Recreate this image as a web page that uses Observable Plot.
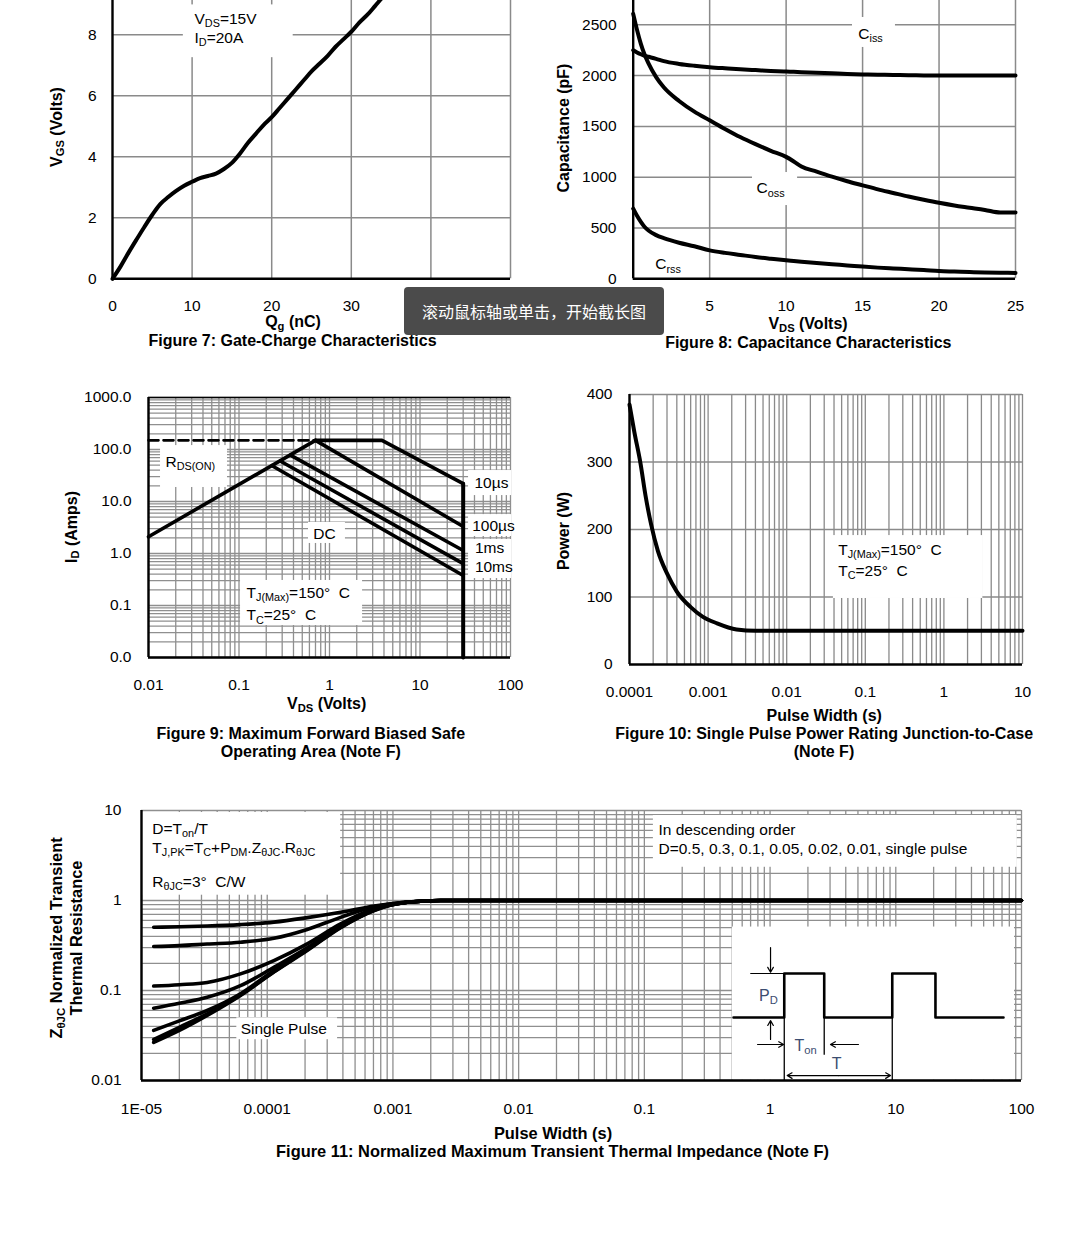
<!DOCTYPE html>
<html><head><meta charset="utf-8">
<script src="https://cdn.jsdelivr.net/npm/d3@7"></script>
<script src="https://cdn.jsdelivr.net/npm/@observablehq/plot@0.6"></script>
<style>
html,body{margin:0;padding:0;background:#fff;}
body{width:1068px;height:1247px;position:relative;overflow:hidden;font-family:"Liberation Sans",Arial,Helvetica,sans-serif;}
.lbl{position:absolute;white-space:nowrap;font-size:15.5px;line-height:18px;color:#000;}
.b{font-weight:bold;font-size:16px;}
.big{font-size:16.4px;line-height:17.5px;}
.sub{font-size:70%;position:relative;top:0.22em;}
.hc{transform:translateX(-50%);text-align:center;}
.rot{transform:translate(-50%,-50%) rotate(-90deg);text-align:center;}
#tip{position:absolute;left:404px;top:287px;width:260px;height:48px;border-radius:4px;background:#4b4b4b;color:#fff;font-family:"Noto Sans CJK SC",sans-serif;font-size:16px;line-height:48px;text-align:center;}
</style></head><body>
<script>
// ---------- data ----------
// Figure 7: gate charge
const gateQ = [0,1,2,3,4,5,6,7,8,9,10,11,12,13,14,15,16,17,18,19,20,21,22,23,24,25,26,27,28,29,30,31,32,33,34,35,36,37];
const gateV = [0,0.4,0.85,1.28,1.7,2.1,2.45,2.68,2.88,3.05,3.18,3.3,3.37,3.45,3.6,3.8,4.1,4.45,4.75,5.05,5.3,5.6,5.9,6.2,6.5,6.8,7.05,7.3,7.6,7.85,8.1,8.4,8.65,8.95,9.25,9.5,9.8,10.05];
const fig7TicksX = [0,10,20,30,40,50];
const fig7TicksY = [0,2,4,6,8];

// Figure 8: capacitance
const capV = [0,0.25,0.5,0.75,1,1.5,2,3,4,5,6,7,8,9,10,10.5,11,12,13,14,15,16,17,18,19,20,21,22,23,24,25];
const ciss = [2250,2228,2210,2195,2185,2165,2142,2115,2097,2083,2072,2062,2054,2046,2040,2037,2034,2028,2022,2016,2012,2009,2006,2004,2002,2000,2000,2000,2000,2000,2000];
const coss = [2608,2450,2313,2205,2120,1985,1885,1750,1645,1560,1475,1395,1325,1260,1200,1155,1105,1055,1005,960,920,880,845,810,778,748,722,700,678,652,652];
const crss = [690,620,560,510,475,430,400,355,320,280,255,235,215,198,182,175,168,155,143,132,120,110,102,94,86,76,71,66,62,60,58];
const fig8TicksX = [0,5,10,15,20,25];
const fig8TicksY = [0,500,1000,1500,2000,2500];

// Figure 9: safe operating area
const soaLimitV = [0.01,0.7],   soaLimitI = [2.1,150];
const soaDashV  = [0.01,0.7],   soaDashI  = [150,150];
const soa10usV  = [0.7,3.8,30], soa10usI  = [150,150,22];
const soa100usV = [0.7,30],     soa100usI = [150,3.3];
const soa1msV   = [0.37,30],    soa1msI   = [78,1.14];
const soa10msV  = [0.285,30],   soa10msI  = [60,0.64];
const soaDcV    = [0.232,30],   soaDcI    = [48.7,0.377];
const soaVmaxV  = [30,30],      soaVmaxI  = [22,0.01];
const fig9TicksX = [0.01,0.1,1,10,100], fig9LabelsX = ["0.01","0.1","1","10","100"];
const fig9TicksY = [0.01,0.1,1,10,100,1000], fig9LabelsY = ["0.0","0.1","1.0","10.0","100.0","1000.0"];

// Figure 10: single pulse power
const pwT = [1e-4,1.15e-4,1.38e-4,1.6e-4,1.88e-4,2.3e-4,3e-4,4e-4,6e-4,8.5e-4,1.3e-3,2.3e-3,4e-3,1e-2,0.1,1,10];
const pwP = [385,345,298,250,208,168,135,108,85,71,61,52,50,50,50,50,50];
const fig10TicksX = [1e-4,1e-3,1e-2,0.1,1,10], fig10LabelsX = ["0.0001","0.001","0.01","0.1","1","10"];
const fig10TicksY = [0,100,200,300,400];

// Figure 11: transient thermal impedance
const zT     = [1.25e-5,2e-5,3.33e-5,6.13e-5,1.13e-4,2.08e-4,3.84e-4,7.1e-4,1.3e-3,2.4e-3,1e-2,0.1,1,10,100];
const zD05   = [0.505,0.51,0.52,0.54,0.575,0.645,0.74,0.87,0.96,1,1,1,1,1,1];
const zD03   = [0.308,0.315,0.328,0.344,0.38,0.477,0.65,0.85,0.96,1,1,1,1,1,1];
const zD01   = [0.112,0.116,0.123,0.153,0.215,0.33,0.55,0.81,0.955,1,1,1,1,1,1];
const zD005  = [0.0635,0.072,0.084,0.113,0.181,0.298,0.527,0.8,0.955,1,1,1,1,1,1];
const zD002  = [0.036,0.046,0.06,0.092,0.167,0.29,0.51,0.79,0.955,1,1,1,1,1,1];
const zD001  = [0.0285,0.039,0.055,0.089,0.162,0.283,0.505,0.78,0.955,1,1,1,1,1,1];
const zSingle= [0.0265,0.036,0.0528,0.088,0.16,0.278,0.5,0.775,0.955,1,1,1,1,1,1];
const fig11TicksX = [1e-5,1e-4,1e-3,1e-2,0.1,1,10,100], fig11LabelsX = ["1E-05","0.0001","0.001","0.01","0.1","1","10","100"];
const fig11TicksY = [0.01,0.1,1,10], fig11LabelsY = ["0.01","0.1","1","10"];

// inset pulse waveform (time in units of T, level in units of P_D)
const waveT = [-0.47,0,0,0.37,0.37,1.0,1.0,1.4,1.4,2.03];
const waveP = [0,0,1,1,0,0,1,1,0,0];

// ---------- helpers ----------
const FONT = '"Liberation Sans", Arial, Helvetica, sans-serif';
const STYLE = {fontFamily: FONT, fontSize: "15.5px", background: "transparent", overflow: "visible", color: "black"};
const GRID = "#8a8a8a", GRIDL = "#8f8f8f";
const zip = (xs, ys) => xs.map((x, i) => ({x, y: ys[i]}));
function logLines(lo, hi) {
  const out = [];
  for (let e = Math.round(Math.log10(lo)); e < Math.round(Math.log10(hi)); e++)
    for (let m = 1; m < 10; m++) out.push(+(m * Math.pow(10, e)).toPrecision(6));
  out.push(hi);
  return out;
}
const fmt = (ticks, labels) => d => labels[ticks.indexOf(d)];
const plain = d => String(d);
const note = (s, x, y, o = {}) => Plot.text([s], {text: d => d, x, y, textAnchor: "start", lineAnchor: "middle", fontSize: 15.5, fill: "black", ...o});
const box = (x1, x2, y1, y2) => Plot.rect([0], {x1, x2, y1, y2, fill: "white"});

function subify(svg) {
  const NS = "http://www.w3.org/2000/svg";
  svg.querySelectorAll("text").forEach(el => {
    const s = el.textContent;
    if (!s.includes("_{") || el.children.length) return;
    const fs = parseFloat(getComputedStyle(el).fontSize) || 15.5;
    const sh = fs * 0.2;
    el.textContent = "";
    let last = 0, m, pend = 0;
    const re = /_\{([^}]*)\}/g;
    const add = (txt, sub) => {
      const t = document.createElementNS(NS, "tspan");
      t.textContent = txt;
      if (sub) { t.setAttribute("dy", sh); t.setAttribute("font-size", fs * 0.7); pend = sh; }
      else if (pend) { t.setAttribute("dy", -pend); pend = 0; }
      el.appendChild(t);
    };
    while ((m = re.exec(s))) { if (m.index > last) add(s.slice(last, m.index), false); add(m[1], true); last = re.lastIndex; }
    if (last < s.length) add(s.slice(last), false);
  });
}
function place(svg, left, top) {
  svg.style.position = "absolute";
  svg.style.left = left + "px";
  svg.style.top = top + "px";
  document.body.appendChild(svg);
  subify(svg);
}
function lbl(html, x, y, cls = "") {
  const d = document.createElement("div");
  d.className = "lbl " + cls;
  d.innerHTML = html;
  d.style.left = x + "px";
  d.style.top = (cls.includes("rot") ? y : y - 8.8) + "px";
  document.body.appendChild(d);
}

// ---------- Figure 7 ----------
place(Plot.plot({
  width: 540, height: 380, marginLeft: 112, marginRight: 30, marginTop: 33.3, marginBottom: 41.7,
  style: STYLE,
  x: {domain: [0, 50], label: null}, y: {domain: [0, 10], label: null},
  marks: [
    Plot.ruleX([10,20,30,40,50], {stroke: GRID, strokeWidth: 1.5}),
    Plot.ruleY([2,4,6,8,10], {stroke: GRID, strokeWidth: 1.5}),
    box(8.9, 22.7, 7.25, 8.98),
    Plot.ruleX([0], {stroke: "black", strokeWidth: 2.4}),
    Plot.ruleY([0], {stroke: "black", strokeWidth: 2.4}),
    Plot.line(zip(gateQ, gateV), {x: "x", y: "y", strokeWidth: 4, curve: "monotone-x"}),
    note("V_{DS}=15V", 10.3, 8.51),
    note("I_{D}=20A", 10.3, 7.89),
    Plot.axisX(fig7TicksX, {tickSize: 0, tickPadding: 21, label: null, tickFormat: plain}),
    Plot.axisY(fig7TicksY, {tickSize: 0, tickPadding: 16, label: null, tickFormat: plain})
  ]
}), 0, -60);

// ---------- Figure 8 ----------
place(Plot.plot({
  width: 528, height: 380, marginLeft: 92.7, marginRight: 53, marginTop: 33.5, marginBottom: 41.7,
  style: STYLE,
  x: {domain: [0, 25], label: null}, y: {domain: [0, 3000], label: null},
  marks: [
    Plot.ruleX([5,10,15,20,25], {stroke: GRID, strokeWidth: 1.5}),
    Plot.ruleY([500,1000,1500,2000,2500,3000], {stroke: GRID, strokeWidth: 1.5}),
    box(14.34, 17.15, 2277, 2572),
    box(7.8, 10.75, 721, 1046),
    Plot.ruleX([0], {stroke: "black", strokeWidth: 2.4}),
    Plot.ruleY([0], {stroke: "black", strokeWidth: 2.4}),
    Plot.line(zip(capV, ciss), {x: "x", y: "y", strokeWidth: 4, curve: "monotone-x"}),
    Plot.line(zip(capV, coss), {x: "x", y: "y", strokeWidth: 4, curve: "monotone-x"}),
    Plot.line(zip(capV, crss), {x: "x", y: "y", strokeWidth: 4, curve: "monotone-x"}),
    note("C_{iss}", 15.52, 2406, {textAnchor: "middle"}),
    note("C_{oss}", 8.98, 889, {textAnchor: "middle"}),
    note("C_{rss}", 2.28, 141, {textAnchor: "middle"}),
    Plot.axisX(fig8TicksX, {tickSize: 0, tickPadding: 21, label: null, tickFormat: plain}),
    Plot.axisY(fig8TicksY, {tickSize: 0, tickPadding: 16.7, label: null, tickFormat: plain})
  ]
}), 540, -60);

// ---------- Figure 9 ----------
place(Plot.plot({
  width: 540, height: 360, marginLeft: 148, marginRight: 30, marginTop: 37, marginBottom: 63,
  style: STYLE,
  x: {type: "log", domain: [0.01, 100], label: null}, y: {type: "log", domain: [0.01, 1000], label: null},
  marks: [
    Plot.ruleX(logLines(0.01, 100), {stroke: GRIDL, strokeWidth: 1.3}),
    Plot.ruleY(logLines(0.01, 1000), {stroke: GRIDL, strokeWidth: 1.3}),
    box(0.01358, 0.0746, 18.6, 119),
    box(0.586, 1.50, 1.56, 3.95),
    box(0.104, 2.32, 0.0412, 0.303),
    box(34.4, 103, 13.0, 39.4),
    box(34.4, 103, 2.12, 5.6),
    box(34.4, 103, 0.33, 1.86),
    Plot.ruleX([0.01], {stroke: "black", strokeWidth: 2.4}),
    Plot.ruleY([0.01], {stroke: "black", strokeWidth: 2.4}),
    Plot.ruleY([1000], {stroke: "black", strokeWidth: 1.6}),
    Plot.line(zip(soaDashV, soaDashI), {x: "x", y: "y", strokeWidth: 2.6, strokeDasharray: "10,5"}),
    Plot.line(zip(soaLimitV, soaLimitI), {x: "x", y: "y", strokeWidth: 3.6}),
    Plot.line(zip(soa10usV, soa10usI), {x: "x", y: "y", strokeWidth: 3.6}),
    Plot.line(zip(soa100usV, soa100usI), {x: "x", y: "y", strokeWidth: 3.6}),
    Plot.line(zip(soa1msV, soa1msI), {x: "x", y: "y", strokeWidth: 3.6}),
    Plot.line(zip(soa10msV, soa10msI), {x: "x", y: "y", strokeWidth: 3.6}),
    Plot.line(zip(soaDcV, soaDcI), {x: "x", y: "y", strokeWidth: 3.6}),
    Plot.line(zip(soaVmaxV, soaVmaxI), {x: "x", y: "y", strokeWidth: 4}),
    note("R_{DS(ON)}", 0.0154, 57.5),
    note("DC", 0.88, 2.32, {textAnchor: "middle"}),
    note("T_{J(Max)}=150°\u00a0 C", 0.121, 0.174),
    note("T_{C}=25°\u00a0 C", 0.121, 0.0643),
    note("10µs", 40, 22.2),
    note("100µs", 37.7, 3.33),
    note("1ms", 40.4, 1.25),
    note("10ms", 40.4, 0.538),
    Plot.axisX(fig9TicksX, {tickSize: 0, tickPadding: 21, label: null, tickFormat: fmt(fig9TicksX, fig9LabelsX)}),
    Plot.axisY(fig9TicksY, {tickSize: 0, tickPadding: 17, label: null, tickFormat: fmt(fig9TicksY, fig9LabelsY)})
  ]
}), 0, 360);

// ---------- Figure 10 ----------
place(Plot.plot({
  width: 528, height: 360, marginLeft: 89, marginRight: 46, marginTop: 34, marginBottom: 56,
  style: STYLE,
  x: {type: "log", domain: [1e-4, 10], label: null}, y: {domain: [0, 400], label: null},
  marks: [
    Plot.ruleX(logLines(1e-4, 10), {stroke: GRID, strokeWidth: 1.3}),
    Plot.ruleY([100,200,300,400], {stroke: GRID, strokeWidth: 1.3}),
    box(0.0393, 3.13, 97.8, 191),
    Plot.ruleX([1e-4], {stroke: "black", strokeWidth: 2.4}),
    Plot.ruleY([0], {stroke: "black", strokeWidth: 2.4}),
    Plot.line(zip(pwT, pwP), {x: "x", y: "y", strokeWidth: 4, curve: "monotone-x"}),
    note("T_{J(Max)}=150°\u00a0 C", 0.0452, 170),
    note("T_{C}=25°\u00a0 C", 0.0452, 138),
    Plot.axisX(fig10TicksX, {tickSize: 0, tickPadding: 21, label: null, tickFormat: fmt(fig10TicksX, fig10LabelsX)}),
    Plot.axisY(fig10TicksY, {tickSize: 0, tickPadding: 17, label: null, tickFormat: plain})
  ]
}), 540, 360);

// ---------- Figure 11 ----------
const zSeries = [zD05, zD03, zD01, zD005, zD002, zD001, zSingle];
place(Plot.plot({
  width: 1068, height: 360, marginLeft: 141, marginRight: 47, marginTop: 30, marginBottom: 60,
  style: STYLE,
  x: {type: "log", domain: [1e-5, 100], label: null}, y: {type: "log", domain: [0.01, 10], label: null},
  marks: [
    Plot.ruleX(logLines(1e-5, 100), {stroke: GRIDL, strokeWidth: 1.3}),
    Plot.ruleY(logLines(0.01, 10), {stroke: GRIDL, strokeWidth: 1.3}),
    box(1.01e-5, 3.84e-4, 1.145, 9.5),
    box(0.118, 92.5, 2.34, 8.8),
    box(5.73e-5, 3.63e-4, 0.0284, 0.0497),
    box(0.501, 88, 0.0101, 0.507),
    Plot.ruleX([1e-5], {stroke: "black", strokeWidth: 2.4}),
    Plot.ruleY([0.01], {stroke: "black", strokeWidth: 2.4}),
    ...zSeries.map(s => Plot.line(zip(zT, s), {x: "x", y: "y", strokeWidth: 3.6, curve: "monotone-x"})),
    note("D=T_{on}/T", 1.22e-5, 6.3),
    note("T_{J,PK}=T_{C}+P_{DM}.Z_{θJC}.R_{θJC}", 1.22e-5, 3.8),
    note("R_{θJC}=3°\u00a0 C/W", 1.22e-5, 1.6),
    note("In descending order", 0.1295, 6.03),
    note("D=0.5, 0.3, 0.1, 0.05, 0.02, 0.01, single pulse", 0.1295, 3.75),
    note("Single Pulse", 6.15e-5, 0.0376),
    Plot.axisX(fig11TicksX, {tickSize: 0, tickPadding: 22, label: null, tickFormat: fmt(fig11TicksX, fig11LabelsX)}),
    Plot.axisY(fig11TicksY, {tickSize: 0, tickPadding: 20, label: null, tickFormat: fmt(fig11TicksY, fig11LabelsY)})
  ]
}), 0, 780);

// ---------- Figure 11 inset: pulse definition ----------
const INK = "#3b4d70";
place(Plot.plot({
  width: 288, height: 153, marginLeft: 1, marginRight: 17, marginTop: 46, marginBottom: 63,
  style: STYLE,
  x: {domain: [-0.47, 2.03], axis: null}, y: {domain: [0, 1], axis: null},
  marks: [
    Plot.line(zip(waveT, waveP), {x: "x", y: "y", strokeWidth: 2.6}),
    Plot.ruleY([1], {x1: -0.31, x2: 0, strokeWidth: 1}),
    Plot.ruleX([0, 1.0], {y1: 0, y2: -1.43, strokeWidth: 1.3}),
    Plot.ruleX([0.37], {y1: 0, y2: -0.86, strokeWidth: 1.3}),
    Plot.arrow([0], {x1: -0.127, y1: 1.59, x2: -0.127, y2: 1.03, strokeWidth: 1.2, headLength: 7}),
    Plot.arrow([0], {x1: -0.127, y1: -0.5, x2: -0.127, y2: -0.07, strokeWidth: 1.2, headLength: 7}),
    Plot.arrow([0], {x1: -0.247, y1: -0.614, x2: -0.006, y2: -0.614, strokeWidth: 1.2, headLength: 7}),
    Plot.arrow([0], {x1: 0.687, y1: -0.614, x2: 0.428, y2: -0.614, strokeWidth: 1.2, headLength: 7}),
    Plot.arrow([0], {x1: 0.5, y1: -1.32, x2: 0.027, y2: -1.32, strokeWidth: 1.2, headLength: 7}),
    Plot.arrow([0], {x1: 0.5, y1: -1.32, x2: 0.984, y2: -1.32, strokeWidth: 1.2, headLength: 7}),
    note("P_{D}", -0.146, 0.5, {textAnchor: "middle", fill: INK, fontSize: 16}),
    note("T_{on}", 0.197, -0.64, {textAnchor: "middle", fill: INK, fontSize: 16}),
    note("T", 0.484, -1.045, {textAnchor: "middle", fill: INK, fontSize: 16})
  ]
}), 732, 927);

// ---------- axis titles and captions ----------
lbl('V<span class="sub">GS</span> (Volts)', 57, 126.5, "b rot");
lbl('Q<span class="sub">g</span> (nC)', 293, 322.2, "b hc");
lbl('Figure 7: Gate-Charge Characteristics', 292.5, 341, "b hc");

lbl('Capacitance (pF)', 564, 128, "b rot");
lbl('V<span class="sub">DS</span> (Volts)', 808, 324, "b hc");
lbl('Figure 8: Capacitance Characteristics', 808.3, 342.8, "b hc");

lbl('I<span class="sub">D</span> (Amps)', 71.5, 527, "b rot");
lbl('V<span class="sub">DS</span> (Volts)', 326.7, 704, "b hc");
lbl('Figure 9: Maximum Forward Biased Safe', 310.8, 734.2, "b hc");
lbl('Operating Area (Note F)', 310.8, 751.5, "b hc");

lbl('Power (W)', 564, 530.5, "b rot");
lbl('Pulse Width (s)', 824.2, 716, "b hc");
lbl('Figure 10: Single Pulse Power Rating Junction-to-Case', 824.2, 734.2, "b hc");
lbl('(Note F)', 824, 751.5, "b hc");

lbl('Z<span class="sub">θJC</span> Normalized Transient<br>Thermal Resistance', 66.25, 938, "b big rot");
lbl('Pulse Width (s)', 553, 1133.5, "b big hc");
lbl('Figure 11: Normalized Maximum Transient Thermal Impedance (Note F)', 552.5, 1151.5, "b big hc");

const tip = document.createElement("div");
tip.id = "tip";
tip.textContent = "滚动鼠标轴或单击，开始截长图";
document.body.appendChild(tip);
</script>
</body></html>
